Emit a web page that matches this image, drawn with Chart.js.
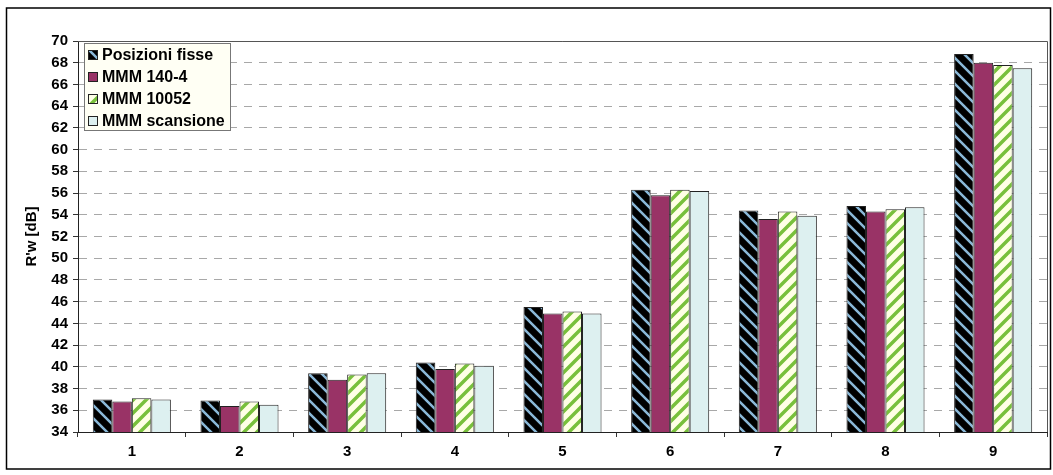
<!DOCTYPE html>
<html>
<head>
<meta charset="utf-8">
<script src="https://cdn.jsdelivr.net/npm/chart.js@4"></script>
<style>
  body { margin: 0; background: #fff; }
  #wrap { width: 1053px; height: 475px; position: relative; }
</style>
</head>
<body>
<div id="wrap"><canvas id="rwChart" width="1053" height="475"></canvas></div>
<script>
// dati
const categorie = ['1', '2', '3', '4', '5', '6', '7', '8', '9'];
const posizioniFisse = [37.0, 36.9, 39.4, 40.4, 45.5, 56.3, 54.4, 54.8, 68.8];
const mmm1404 = [36.8, 36.4, 38.8, 39.8, 44.9, 55.8, 53.6, 54.3, 68.0];
const mmm10052 = [37.1, 36.8, 39.3, 40.3, 45.1, 56.3, 54.3, 54.5, 67.8];
const mmmScansione = [37.0, 36.5, 39.4, 40.1, 44.9, 56.2, 53.9, 54.7, 67.5];
const yMin = 34, yMax = 70, yStep = 2;

const FONT = '"Liberation Sans", Arial, sans-serif';

// tratteggio diagonale
function stripes(bg, fg, dir, w) {
  const s = 13;
  const c = document.createElement('canvas');
  c.width = s; c.height = s;
  const g = c.getContext('2d');
  g.fillStyle = bg;
  g.fillRect(0, 0, s, s);
  g.strokeStyle = fg;
  g.lineWidth = w;
  g.beginPath();
  for (let k = -1; k <= 1; k++) {
    if (dir === '\\') {
      g.moveTo(k * s - 2, -2); g.lineTo(k * s + s + 2, s + 2);
    } else {
      g.moveTo(k * s - 2, s + 2); g.lineTo(k * s + s + 2, -2);
    }
  }
  g.stroke();
  return g.createPattern(c, 'repeat');
}

const ctx = document.getElementById('rwChart').getContext('2d');
const patNero = stripes('#000000', '#8ab8d8', '\\', 2.5);
const patVerde = stripes('#ffffe6', '#78c03c', '/', 3.5);

// cornice esterna, bordo area grafico e legenda
const decorazioni = {
  id: 'decorazioni',
  beforeDraw(chart) {
    const c = chart.ctx;
    c.save();
    c.fillStyle = '#fff';
    c.fillRect(0, 0, chart.width, chart.height);
    c.restore();
  },
  afterDatasetsDraw(chart) {
    const c = chart.ctx;
    const a = chart.chartArea;
    c.save();
    c.strokeStyle = '#555';
    c.lineWidth = 1;
    c.beginPath();
    c.moveTo(a.left, a.top + 0.5);
    c.lineTo(a.right + 0.5, a.top + 0.5);
    c.lineTo(a.right + 0.5, a.bottom);
    c.stroke();

    c.strokeStyle = '#000';
    c.lineWidth = 1.5;
    c.strokeRect(6.5, 8, 1044, 461);

    // legenda
    const lx = 84, ly = 43, lw = 146, lh = 87;
    c.fillStyle = '#fffff4';
    c.fillRect(lx, ly, lw, lh);
    c.strokeStyle = '#777';
    c.lineWidth = 1;
    c.strokeRect(lx + 0.5, ly + 0.5, lw, lh);
    c.font = 'bold 16px ' + FONT;
    c.textBaseline = 'middle';
    chart.data.datasets.forEach((ds, i) => {
      const y = ly + 12 + i * 22;
      c.fillStyle = ds.backgroundColor;
      c.fillRect(lx + 4, y - 5, 10, 10);
      c.strokeStyle = '#222';
      c.strokeRect(lx + 4.5, y - 4.5, 9, 9);
      c.fillStyle = '#000';
      c.fillText(ds.label, lx + 18, y + 1);
    });
    c.restore();
  }
};

new Chart(ctx, {
  type: 'bar',
  data: {
    labels: categorie,
    datasets: [
      { label: 'Posizioni fisse', data: posizioniFisse, backgroundColor: patNero },
      { label: 'MMM 140-4', data: mmm1404, backgroundColor: '#993366' },
      { label: 'MMM 10052', data: mmm10052, backgroundColor: patVerde },
      { label: 'MMM scansione', data: mmmScansione, backgroundColor: '#ddf0f0' }
    ].map(d => Object.assign(d, {
      borderColor: '#222',
      borderWidth: 1,
      borderSkipped: 'bottom',
      categoryPercentage: 0.725,
      barPercentage: 1
    }))
  },
  options: {
    responsive: false,
    animation: false,
    layout: { padding: { left: 0, top: 41, right: 6, bottom: 0 } },
    plugins: {
      legend: { display: false },
      tooltip: { enabled: false }
    },
    scales: {
      x: {
        afterFit(s) { s.height = 43; },
        grid: { offset: true, drawOnChartArea: false, tickLength: 5, color: '#333' },
        border: { color: '#222', width: 1 },
        ticks: { color: '#000', padding: 6, font: { family: FONT, size: 15, weight: 'bold' } }
      },
      y: {
        min: yMin,
        max: yMax,
        afterFit(s) { s.width = 78; },
        ticks: {
          stepSize: yStep,
          color: '#000',
          padding: 5,
          font: { family: FONT, size: 15, weight: 'bold' }
        },
        grid: { color: '#a8a8a8', tickLength: 5, tickColor: '#333', tickBorderDash: [] },
        border: { color: '#222', width: 1, dash: [8, 7] },
        title: {
          display: true,
          text: "R'w [dB]",
          color: '#000',
          padding: { top: 23 },
          font: { family: FONT, size: 15, weight: 'bold' }
        }
      }
    }
  },
  plugins: [decorazioni]
});
</script>
</body>
</html>
